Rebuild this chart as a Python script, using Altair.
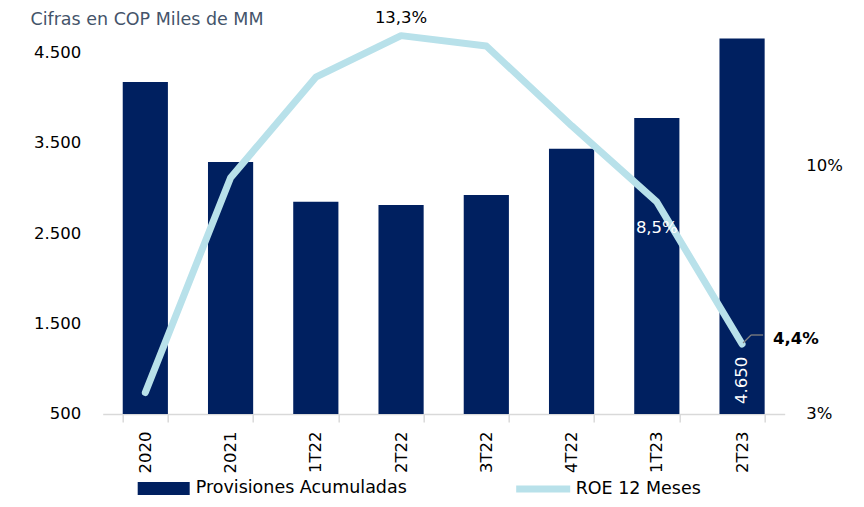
import altair as alt
import pandas as pd

# ---- data ----
periodos = ["2020", "2021", "1T22", "2T22", "3T22", "4T22", "1T23", "2T23"]
provisiones = [4170, 3285, 2845, 2810, 2920, 3430, 3770, 4650]
roe = [3.0, 9.2, 12.1, 13.3, 13.0, 10.7, 8.5, 4.4]
eje_izq = [500, 1500, 2500, 3500, 4500]
eje_der = [3, 10]
serie_barras = "Provisiones Acumuladas"
serie_linea = "ROE 12 Meses"
titulo = "Cifras en COP Miles de MM"


def fmt_miles(v):
    return f"{v:,.0f}".replace(",", ".")


def fmt_pct(v):
    return f"{v:.1f}%".replace(".", ",")


df = pd.DataFrame({"periodo": periodos, "prov": provisiones, "roe": roe})
df["serie_b"] = serie_barras
df["serie_l"] = serie_linea
df["prov_lbl"] = [fmt_miles(v) for v in provisiones]
df["roe_lbl"] = [fmt_pct(v) for v in roe]

FONT = "DejaVu Sans"
FS = 16.5
NAVY = "#002060"
LIGHT = "#B8E1EA"

x_enc = alt.X(
    "periodo:N",
    sort=periodos,
    scale=alt.Scale(paddingInner=0.47, paddingOuter=0.235),
    axis=alt.Axis(
        title=None, labelAngle=270, labelFontSize=FS, labelColor="black",
        labelFont=FONT, labelPadding=9, tickBand="extent", tickSize=8,
        tickColor="#D9D9D9", tickWidth=1.5, domainColor="#D9D9D9", domainWidth=1.5,
    ),
)

s_izq = alt.Scale(domain=[500, 4750], nice=False, zero=False)
s_roe = alt.Scale(domain=[2.38, 13.48], nice=False, zero=False)
s_der = alt.Scale(domain=[3, 13.855], nice=False, zero=False)

bars = alt.Chart(df).mark_bar(color=NAVY).encode(
    x=x_enc,
    y=alt.Y(
        "prov:Q", scale=s_izq,
        axis=alt.Axis(
            orient="left", values=eje_izq, title=None, domain=False, ticks=False,
            grid=False, labelPadding=22, labelFontSize=FS, labelColor="black",
            labelFont=FONT, labelExpr="replace(format(datum.value, ','), ',', '.')",
        ),
    ),
    y2=alt.datum(500),
    color=alt.Color(
        "serie_b:N", scale=alt.Scale(range=[NAVY]),
        legend=alt.Legend(
            title=None, orient="none", legendX=35, legendY=433,
            symbolType="M-1,-0.25L1,-0.25L1,0.25L-1,0.25Z", symbolSize=2704,
            symbolStrokeWidth=0, labelFontSize=17.5, labelFont=FONT,
            labelColor="black", labelOffset=6, labelLimit=400,
        ),
    ),
)

bar_lbl = alt.Chart(df[df.periodo == "2T23"]).mark_text(
    angle=270, align="left", baseline="middle", color="white",
    fontSize=FS, font=FONT, dx=10,
).encode(
    x=x_enc,
    y=alt.Y(datum=500, scale=s_izq, axis=None),
    text="prov_lbl:N",
)

line = alt.Chart(df).mark_line(strokeWidth=7, strokeCap="round", strokeJoin="round").encode(
    x=x_enc,
    y=alt.Y("roe:Q", scale=s_roe, axis=None),
    stroke=alt.Stroke(
        "serie_l:N", scale=alt.Scale(range=[LIGHT]),
        legend=alt.Legend(
            title=None, orient="none", legendX=410, legendY=429,
            symbolType="stroke", symbolSize=2916, symbolStrokeWidth=7,
            labelFontSize=17.5, labelFont=FONT, labelColor="black", labelOffset=2,
            labelLimit=400,
        ),
    ),
)

t_peak = alt.Chart(df[df.periodo == "2T22"]).mark_text(
    dy=-18, fontSize=FS, font=FONT, color="black"
).encode(x=x_enc, y=alt.Y("roe:Q", scale=s_roe, axis=None), text="roe_lbl:N")

t_85 = alt.Chart(df[df.periodo == "1T23"]).mark_text(
    dy=26, fontSize=FS, font=FONT, color="white"
).encode(x=x_enc, y=alt.Y("roe:Q", scale=s_roe, axis=None), text="roe_lbl:N")

t_44 = alt.Chart(df[df.periodo == "2T23"]).mark_text(
    dx=31, dy=-5, align="left", fontSize=FS, font=FONT, fontWeight="bold", color="black"
).encode(x=x_enc, y=alt.Y("roe:Q", scale=s_roe, axis=None), text="roe_lbl:N")

lead1 = alt.Chart(df[df.periodo == "2T23"]).mark_rule(
    color="#808080", strokeWidth=1.3, xOffset=1, x2Offset=9, yOffset=-1, y2Offset=-9
).encode(
    x=alt.X("periodo:N", sort=periodos, bandPosition=0.5),
    x2=alt.X2("periodo:N", bandPosition=0.5),
    y=alt.Y("roe:Q", scale=s_roe, axis=None),
    y2="roe:Q",
)
lead2 = alt.Chart(df[df.periodo == "2T23"]).mark_rule(
    color="#808080", strokeWidth=1.3, xOffset=9, x2Offset=21, yOffset=-9, y2Offset=-9
).encode(
    x=alt.X("periodo:N", sort=periodos, bandPosition=0.5),
    x2=alt.X2("periodo:N", bandPosition=0.5),
    y=alt.Y("roe:Q", scale=s_roe, axis=None),
    y2="roe:Q",
)

eje = alt.Chart(pd.DataFrame({"v": eje_der})).mark_point(opacity=0).encode(
    y=alt.Y(
        "v:Q", scale=s_der,
        axis=alt.Axis(
            orient="right", values=eje_der, title=None, domain=False, ticks=False,
            grid=False, labelPadding=21, labelFontSize=FS, labelColor="black",
            labelFont=FONT, labelExpr="datum.value + '%'",
        ),
    )
)

chart = alt.layer(
    bars, bar_lbl, line, lead1, lead2, t_peak, t_85, t_44, eje
).resolve_scale(
    y="independent", color="independent", stroke="independent"
).properties(
    width=682,
    height=384.6,
    autosize="none",
    padding={"left": 94.7, "top": 21.4, "right": 70, "bottom": 85},
    title=alt.TitleParams(
        titulo, anchor="start", fontSize=17.5, font=FONT, color="#44546A",
        fontWeight="normal", dx=-3, dy=23,
    ),
).configure(font=FONT, view=alt.ViewConfig(stroke=None))

chart.save("out.html", embed_options={"renderer": "svg", "actions": False})
